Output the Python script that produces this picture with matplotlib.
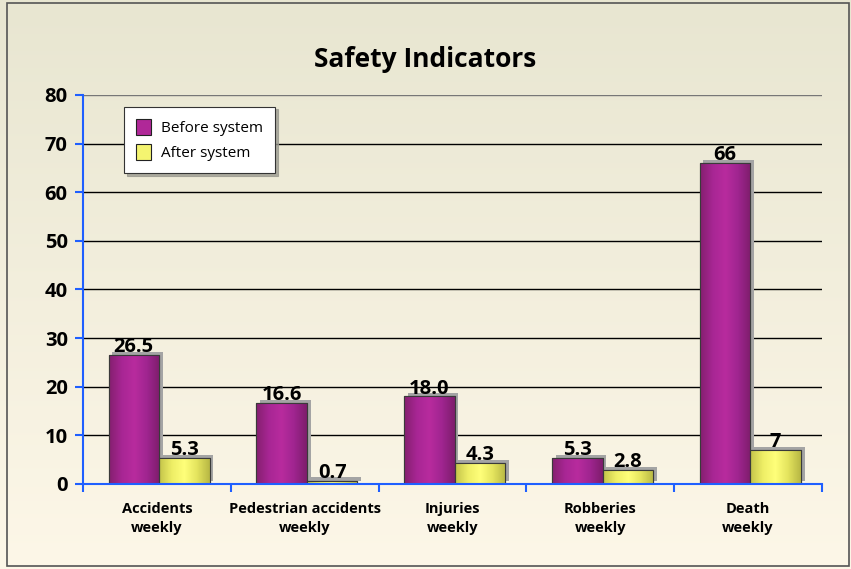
import numpy as np
import matplotlib
matplotlib.use("Agg")
import matplotlib.pyplot as plt
from matplotlib.colors import LinearSegmentedColormap
from matplotlib.patches import Patch, Rectangle
from matplotlib.patheffects import SimplePatchShadow, Normal

categories = ["Accidents\nweekly", "Pedestrian accidents\nweekly", "Injuries\nweekly",
              "Robberies\nweekly", "Death\nweekly"]
before = [26.5, 16.6, 18.0, 5.3, 66]
after = [5.3, 0.7, 4.3, 2.8, 7]
before_txt = ["26.5", "16.6", "18.0", "5.3", "66"]
after_txt = ["5.3", "0.7", "4.3", "2.8", "7"]
series_names = ["Before system", "After system"]

plt.rcParams['font.family'] = ['Open Sans', 'DejaVu Sans']
blue = '#1f5fff'

fig = plt.figure(figsize=(8.51, 5.69), dpi=100)

# background gradient behind everything
bg = fig.add_axes([0, 0, 1, 1], zorder=-10)
grad = np.linspace(0, 1, 256).reshape(-1, 1)
bg_cmap = LinearSegmentedColormap.from_list('bg', ['#e8e6d1', '#fdf7e8'])
bg.imshow(grad, cmap=bg_cmap, aspect='auto', extent=(0, 1, 1, 0))
bg.set_axis_off()
fig.add_artist(Rectangle((0.0085, 0.005), 0.989, 0.99, transform=fig.transFigure,
                         fill=False, edgecolor='#555555', linewidth=1.2))

ax = fig.add_axes([0.0975, 0.1494, 0.8685, 0.6837])
ax.patch.set_alpha(0)

x = np.arange(len(categories))
w = 0.342
off = 0.015
hgrad = np.linspace(0, 1, 64).reshape(1, -1)
purple_cmap = LinearSegmentedColormap.from_list('p', ['#85206f', '#a82694', '#b82b9e', '#a02590', '#7e1d6c'])
yellow_cmap = LinearSegmentedColormap.from_list('y', ['#c4c44a', '#eeee66', '#ffff7a', '#e4e45e', '#b8b844'])

def draw_series(xs, vals, labels, base, cmap):
    bars = ax.bar(xs, vals, width=w, color=base, edgecolor='#3a3a3a', linewidth=0.8, zorder=3,
                  path_effects=[SimplePatchShadow(offset=(2.6, 2.4), shadow_rgbFace='#a4a4a4', alpha=1),
                                Normal()])
    for b, t in zip(bars, labels):
        x0, bw, bh = b.get_x(), b.get_width(), b.get_height()
        im = ax.imshow(hgrad, cmap=cmap, aspect='auto', zorder=3.5,
                       extent=(x0, x0 + bw, 0, bh), interpolation='bilinear')
        im.set_clip_path(b)
        ax.bar(x0 + bw / 2, bh, width=bw, fill=False, edgecolor='#3a3a3a', linewidth=0.8, zorder=4)
        ax.annotate(t, (x0 + bw / 2, bh), xytext=(0, -1.5), textcoords='offset points',
                    ha='center', va='bottom', fontsize=14.5, fontweight='bold', zorder=5)

draw_series(x - w / 2 + off, before, before_txt, '#b02898', purple_cmap)
draw_series(x + w / 2 + off, after, after_txt, '#f4f470', yellow_cmap)

ax.set_xlim(-0.5, 4.5)
ax.set_ylim(0, 80)
ax.set_yticks(range(0, 81, 10))
ax.set_xticks(x)
ax.set_xticklabels(categories, fontsize=10.5, fontweight='bold', linespacing=1.45)
ax.set_xticks(np.arange(-0.5, 5, 1), minor=True)
ax.tick_params(axis='x', which='major', length=0, pad=13)
ax.tick_params(axis='x', which='minor', length=6, width=1.5, color=blue, direction='out')
ax.tick_params(axis='y', length=6, width=1.5, color=blue, labelsize=14.5, pad=5)
for lab in ax.get_yticklabels():
    lab.set_fontweight('bold')

ax.set_axisbelow(True)
ax.yaxis.grid(True, color='black', linewidth=1)
ax.get_ygridlines()[-1].set_color('#777777')
for s in ['top', 'right']:
    ax.spines[s].set_visible(False)
for s in ['left', 'bottom']:
    ax.spines[s].set_color(blue)
    ax.spines[s].set_linewidth(1.5)
    ax.spines[s].set_zorder(6)

handles = [Patch(facecolor='#b02898', edgecolor='#222222', linewidth=0.8),
           Patch(facecolor='#f4f470', edgecolor='#222222', linewidth=0.8)]
leg = ax.legend(handles, series_names, loc='upper left', bbox_to_anchor=(0.0555, 0.97),
                fontsize=11, frameon=True, fancybox=False, shadow={'color': '#9a9a90', 'alpha': 0.8},
                handlelength=1.0, handleheight=1.2, handletextpad=0.6, borderpad=0.8,
                labelspacing=0.55, borderaxespad=0)
leg.get_frame().set_edgecolor('#333333')
leg.get_frame().set_linewidth(0.8)
leg.set_zorder(7)

fig.text(0.5, 0.895, "Safety Indicators", ha='center', va='center', fontsize=19, fontweight='bold')

fig.savefig('out.png', dpi=100)
